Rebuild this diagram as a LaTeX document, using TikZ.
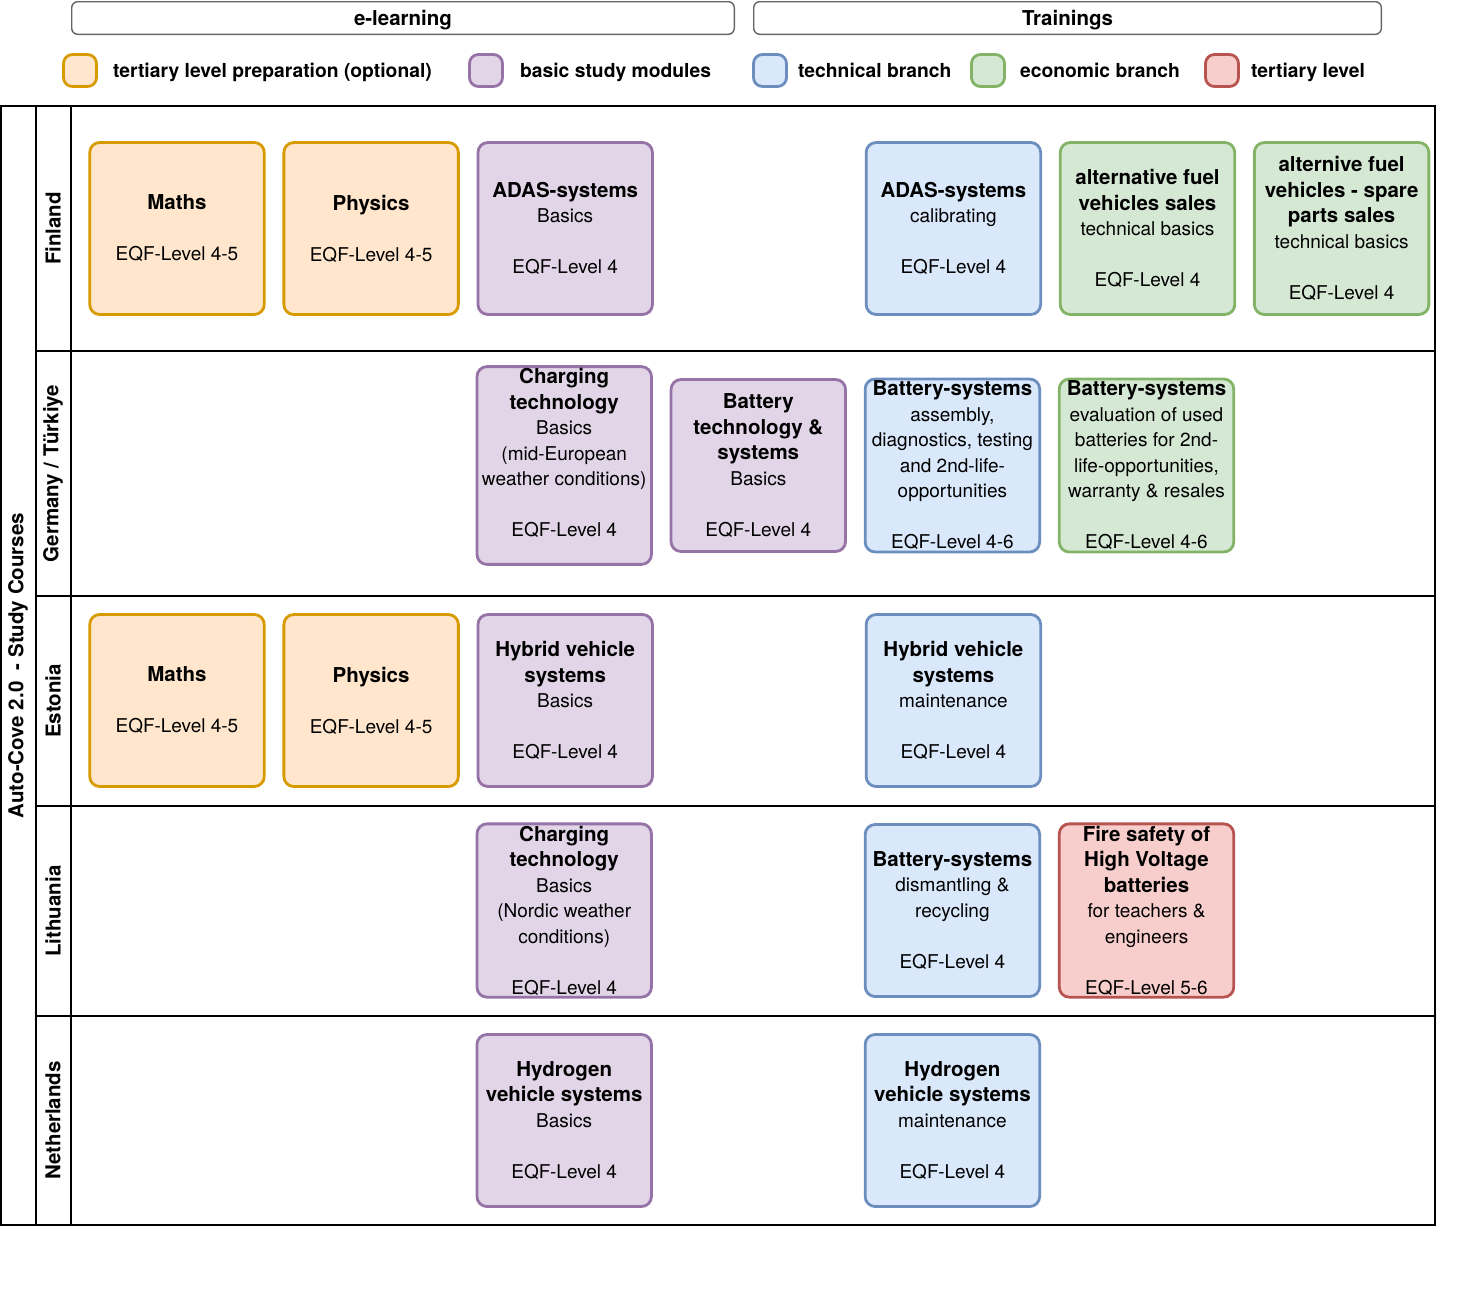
\documentclass[tikz,border=0pt]{standalone}
\usepackage{fontspec}
\setmainfont{TeX Gyre Heros}
\usepackage{tikz}
\usetikzlibrary{positioning}
\definecolor{prepfill}{HTML}{FFE6CC}
\definecolor{prepline}{HTML}{D79B00}
\definecolor{basicfill}{HTML}{E1D5E7}
\definecolor{basicline}{HTML}{9673A6}
\definecolor{techfill}{HTML}{DAE8FC}
\definecolor{techline}{HTML}{6C8EBF}
\definecolor{econfill}{HTML}{D5E8D4}
\definecolor{econline}{HTML}{82B366}
\definecolor{tertfill}{HTML}{F8CECC}
\definecolor{tertline}{HTML}{B85450}
\newcommand{\modtitle}[1]{{\fontsize{20.5}{25.5}\selectfont\bfseries #1}}

\begin{document}
\begin{tikzpicture}[x=1pt, y=-1pt, node distance=16.8pt, font=\fontsize{19}{25.5}\selectfont]
\tikzstyle{course}=[draw, rounded corners=10pt, line width=2.8pt, align=center, minimum width=174.5pt, minimum height=172pt, inner sep=2pt]
\tikzstyle{prep}=[course, fill=prepfill, draw=prepline]
\tikzstyle{basic}=[course, fill=basicfill, draw=basicline]
\tikzstyle{tech}=[course, fill=techfill, draw=techline]
\tikzstyle{econ}=[course, fill=econfill, draw=econline]
\tikzstyle{tert}=[course, fill=tertfill, draw=tertline]
\tikzstyle{swatch}=[draw, rounded corners=9pt, line width=2.8pt, minimum width=33pt, minimum height=32pt, inner sep=0pt]
\tikzstyle{legtext}=[font=\fontsize{19.3}{24}\selectfont\bfseries, inner sep=0pt, text height=17pt, text depth=3pt]
\tikzstyle{headbox}=[draw=black!60, rounded corners=6pt, line width=1.4pt, minimum height=32.6pt, text height=17pt, text depth=3pt, font=\fontsize{20.5}{24}\selectfont\bfseries]
\tikzstyle{country}=[rotate=90, font=\fontsize{20.5}{24}\selectfont\bfseries]
\useasboundingbox (0,0) rectangle (1471,1288);

% headers and legend
\node[headbox, minimum width=662.6pt] (elearn) at (403,18) {e-learning};
\node[headbox, minimum width=627.6pt] (train) at (1067.5,18) {Trainings};
\node[swatch, fill=prepfill, draw=prepline] (lgPrep) at (80,70.5) {};
\node[legtext, right=15pt of lgPrep] (lgPrepText) {tertiary level preparation (optional)};
\node[swatch, fill=basicfill, draw=basicline] (lgBasic) at (486,70.5) {};
\node[legtext, right=16pt of lgBasic] (lgBasicText) {basic study modules};
\node[swatch, fill=techfill, draw=techline] (lgTech) at (770,70.5) {};
\node[legtext, right=10pt of lgTech] (lgTechText) {technical branch};
\node[swatch, fill=econfill, draw=econline] (lgEcon) at (988,70.5) {};
\node[legtext, right=14pt of lgEcon] (lgEconText) {economic branch};
\node[swatch, fill=tertfill, draw=tertline] (lgTert) at (1222,70.5) {};
\node[legtext, right=11pt of lgTert] (lgTertText) {tertiary level};

% table
\draw[line width=2pt] (1,106) rectangle (1435,1225);
\draw[line width=2pt] (36,106) -- (36,1225);
\draw[line width=2pt] (71,106) -- (71,1225);
\foreach \y in {351,596,806,1016}
  \draw[line width=2pt] (36,\y) -- (1435,\y);
\node[country] (title) at (18,665.5) {Auto-Cove 2.0\ \ - Study Courses};
\node[country] (fi) at (53,228.5) {Finland};
\node[country] (de) at (53,473.5) {Germany / Türkiye};
\node[country] (ee) at (53,701) {Estonia};
\node[country] (lt) at (53,911) {Lithuania};
\node[country] (nl) at (53,1120.5) {Netherlands};

% Finland
\node[prep] (fiMaths) at (177,228.5) {\modtitle{Maths}\\[25.5pt] EQF-Level 4-5};
\node[prep, right=of fiMaths] (fiPhys) {\modtitle{Physics}\\[25.5pt] EQF-Level 4-5};
\node[basic, right=of fiPhys] (fiAdas) {\modtitle{ADAS-systems}\\ Basics\\[25.5pt] EQF-Level 4};
\node[tech, right=210.9pt of fiAdas] (fiAdasCal) {\modtitle{ADAS-systems}\\ calibrating\\[25.5pt] EQF-Level 4};
\node[econ, right=of fiAdasCal] (fiSales) {\modtitle{alternative fuel}\\ \modtitle{vehicles sales}\\ technical basics\\[25.5pt] EQF-Level 4};
\node[econ, right=of fiSales] (fiParts) {\modtitle{alternive fuel}\\ \modtitle{vehicles - spare}\\ \modtitle{parts sales}\\ technical basics\\[25.5pt] EQF-Level 4};

% Germany / Tuerkiye
\node[basic, minimum height=192pt] (deCharge) at (564.2,465.5) {\modtitle{Charging}\\ \modtitle{technology}\\ Basics\\ (mid-European\\ weather conditions)\\[25.5pt] EQF-Level 4\\ \mbox{}};
\node[basic, right=of deCharge] (deBatt) {\modtitle{Battery}\\ \modtitle{technology \&}\\ \modtitle{systems}\\ Basics\\[25.5pt] EQF-Level 4};
\node[tech, right=of deBatt] (deAssembly) {\modtitle{Battery-systems}\\ assembly,\\ diagnostics, testing\\ and 2nd-life-\\ opportunities\\[25.5pt] EQF-Level 4-6};
\node[econ, right=of deAssembly] (deResale) {\modtitle{Battery-systems}\\ evaluation of used\\ batteries for 2nd-\\ life-opportunities,\\ warranty \& resales\\[25.5pt] EQF-Level 4-6};

% Estonia
\node[prep] (eeMaths) at (177,700.5) {\modtitle{Maths}\\[25.5pt] EQF-Level 4-5};
\node[prep, right=of eeMaths] (eePhys) {\modtitle{Physics}\\[25.5pt] EQF-Level 4-5};
\node[basic, right=of eePhys] (eeHybrid) {\modtitle{Hybrid vehicle}\\ \modtitle{systems}\\ Basics\\[25.5pt] EQF-Level 4};
\node[tech, right=210.9pt of eeHybrid] (eeHybridMaint) {\modtitle{Hybrid vehicle}\\ \modtitle{systems}\\ maintenance\\[25.5pt] EQF-Level 4};

% Lithuania
\node[basic] (ltCharge) at (564.2,910.5) {\modtitle{Charging}\\ \modtitle{technology}\\ Basics\\ (Nordic weather\\ conditions)\\[25.5pt] EQF-Level 4};
\node[tech, right=210.9pt of ltCharge] (ltRecycle) {\modtitle{Battery-systems}\\ dismantling \&\\ recycling\\[25.5pt] EQF-Level 4};
\node[tert, right=of ltRecycle] (ltFire) {\modtitle{Fire safety of}\\ \modtitle{High Voltage}\\ \modtitle{batteries}\\ for teachers \&\\ engineers\\[25.5pt] EQF-Level 5-6};

% Netherlands
\node[basic] (nlHydrogen) at (564.2,1120.5) {\modtitle{Hydrogen}\\ \modtitle{vehicle systems}\\ Basics\\[25.5pt] EQF-Level 4};
\node[tech, right=210.9pt of nlHydrogen] (nlHydrogenMaint) {\modtitle{Hydrogen}\\ \modtitle{vehicle systems}\\ maintenance\\[25.5pt] EQF-Level 4};
\end{tikzpicture}
\end{document}
